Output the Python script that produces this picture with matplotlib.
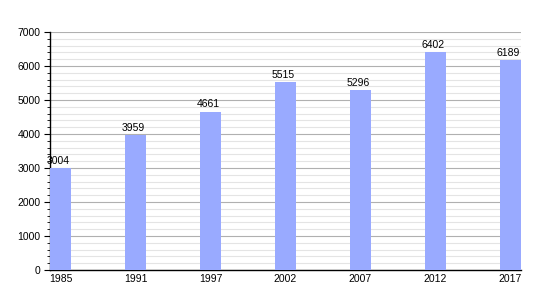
import numpy as np
import matplotlib.pyplot as plt
from matplotlib.ticker import MultipleLocator

years = ['1985', '1991', '1997', '2002', '2007', '2012', '2017']
population = [3004, 3959, 4661, 5515, 5296, 6402, 6189]

plt.rcParams['font.family'] = ['Liberation Sans', 'DejaVu Sans']

fig = plt.figure(figsize=(5.5, 3.0), dpi=100)
ax = fig.add_axes([0.0909, 0.1, 0.856, 0.7933])

x = np.arange(len(years))
bars = ax.bar(x, population, width=0.28, color='#99aaff', zorder=3)
for xi, v in zip(x, population):
    ax.text(xi - 0.03, v + 60, str(v), ha='center', va='bottom', fontsize=7.5, zorder=4)

ax.set_xlim(-0.14, len(years) - 1 + 0.14)
ax.set_ylim(0, 7000)
ax.set_xticks(x)
ax.set_xticklabels(years)
ax.yaxis.set_major_locator(MultipleLocator(1000))
ax.yaxis.set_minor_locator(MultipleLocator(200))

ax.grid(axis='y', which='major', color='#b0b0b0', linewidth=0.8, zorder=0)
ax.grid(axis='y', which='minor', color='#e4e4e4', linewidth=0.8, zorder=0)

ax.spines['top'].set_visible(False)
ax.spines['right'].set_visible(False)
ax.spines['left'].set_linewidth(1.0)
ax.spines['bottom'].set_linewidth(1.0)
ax.tick_params(axis='x', length=0, labelsize=7.5, pad=3)
ax.tick_params(axis='y', which='major', length=4, labelsize=7.5, pad=3)
ax.tick_params(axis='y', which='minor', length=2.5)

fig.savefig('out.png', dpi=100)
